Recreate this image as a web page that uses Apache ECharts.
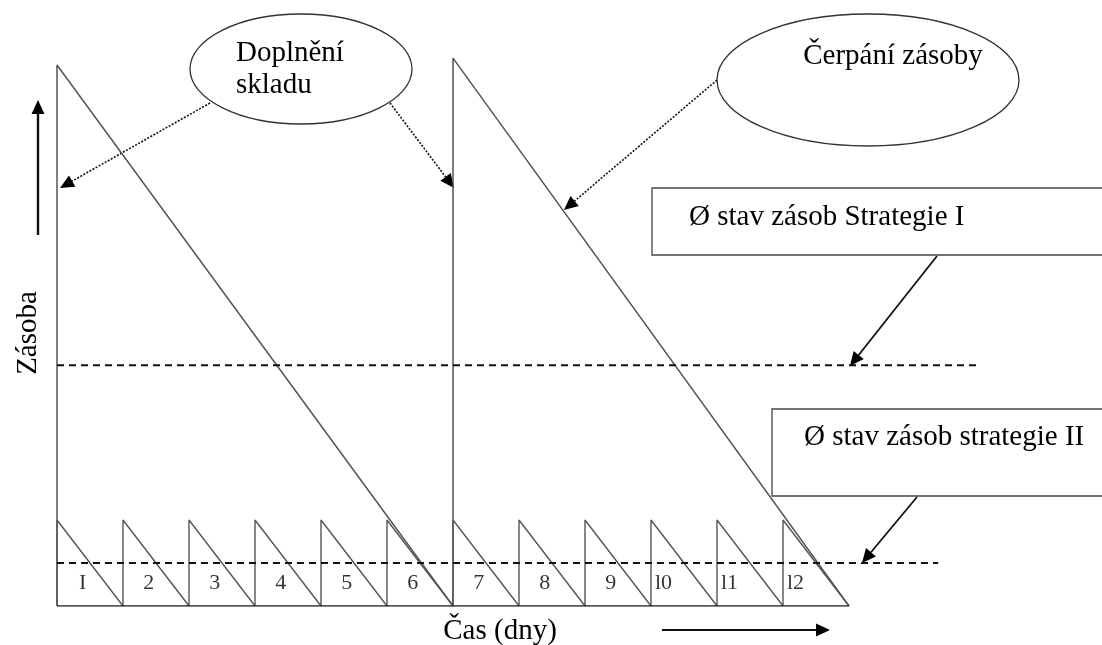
<!DOCTYPE html>
<html>
<head>
<meta charset="utf-8">
<script src="https://cdn.jsdelivr.net/npm/echarts@6/dist/echarts.min.js"></script>
<style>
  html, body { margin: 0; padding: 0; background: #fff; }
  #chart { width: 1102px; height: 645px; }
</style>
</head>
<body>
<div id="chart"></div>
<script>
// Strategie I: one big delivery every 6 days
const bigSaw = [[0, 0], [0, 6.29], [6, 0], [6, 6.37], [12, 0]];
// Strategie II: daily delivery
const smallSaw = [
  [0, 0], [0, 1], [1, 0], [1, 1], [2, 0], [2, 1], [3, 0], [3, 1], [4, 0],
  [4, 1], [5, 0], [5, 1], [6, 0], [6, 1], [7, 0], [7, 1], [8, 0],
  [8, 1], [9, 0], [9, 1], [10, 0], [10, 1], [11, 0], [11, 1], [12, 0]
];
const baseLine = [[0, 0], [12, 0]];
const avgStrategyI = [[0, 2.8], [13.94, 2.8]];
const avgStrategyII = [[0, 0.5], [13.35, 0.5]];
const dayLabels = ['I', '2', '3', '4', '5', '6', '7', '8', '9', 'l0', 'l1', 'l2'];

const serif = '"Liberation Serif", "DejaVu Serif", serif';
const chart = echarts.init(document.getElementById('chart'));

const labelPoints = dayLabels.map((t, i) => ({
  value: [i + (t.length > 1 ? 0.06 : 0.39), 0.27],
  label: {
    show: true,
    formatter: t,
    position: t.length > 1 ? 'right' : 'inside',
    distance: 0
  }
}));

const arrow = (x1, y1, x2, y2, dotted, w) => {
  const len = Math.hypot(x2 - x1, y2 - y1);
  const ux = (x2 - x1) / len, uy = (y2 - y1) / len;
  const hl = 14, hw = 6.5;
  const bx = x2 - ux * hl, by = y2 - uy * hl;
  return {
    type: 'group',
    children: [
      {
        type: 'line',
        shape: {x1: x1, y1: y1, x2: bx, y2: by},
        style: {stroke: '#111', lineWidth: w || 1.6, lineDash: dotted ? [2, 1.5] : null}
      },
      {
        type: 'polygon',
        shape: {points: [[x2, y2], [bx - uy * hw, by + ux * hw], [bx + uy * hw, by - ux * hw]]},
        style: {fill: '#000'}
      }
    ]
  };
};

const text = (t, x, y, size, align, rot) => ({
  type: 'text',
  x: x,
  y: y,
  rotation: rot || 0,
  style: {
    text: t,
    fill: '#000',
    fontSize: size,
    fontFamily: serif,
    align: align || 'left',
    verticalAlign: 'middle'
  }
});

const option = {
  animation: false,
  backgroundColor: '#fff',
  grid: {left: 57, right: 55, top: 4, bottom: 39},
  xAxis: {type: 'value', min: 0, max: 15, show: false},
  yAxis: {type: 'value', min: 0, max: 7, show: false},
  series: [
    {
      type: 'line',
      data: bigSaw,
      symbol: 'none',
      lineStyle: {color: '#555', width: 1.5}
    },
    {
      type: 'line',
      data: smallSaw,
      symbol: 'none',
      lineStyle: {color: '#555', width: 1.4}
    },
    {
      type: 'line',
      data: baseLine,
      symbol: 'none',
      lineStyle: {color: '#222', width: 1.6}
    },
    {
      type: 'line',
      data: avgStrategyI,
      symbol: 'none',
      lineStyle: {color: '#111', width: 1.9, type: [7, 5]}
    },
    {
      type: 'line',
      data: avgStrategyII,
      symbol: 'none',
      lineStyle: {color: '#111', width: 1.9, type: [7, 5]}
    },
    {
      type: 'scatter',
      data: labelPoints,
      symbolSize: 0,
      label: {color: '#000', fontSize: 22, fontFamily: serif},
      z: 5
    }
  ],
  graphic: [
    {
      type: 'ellipse',
      shape: {cx: 301, cy: 69, rx: 111, ry: 55},
      style: {fill: '#fff', stroke: '#333', lineWidth: 1.3}
    },
    text('Doplnění', 236, 53, 29),
    text('skladu', 236, 85, 29),
    {
      type: 'ellipse',
      shape: {cx: 868, cy: 80, rx: 151, ry: 66},
      style: {fill: '#fff', stroke: '#333', lineWidth: 1.3}
    },
    text('Čerpání zásoby', 893, 56, 29, 'center'),
    {
      type: 'rect',
      shape: {x: 652, y: 188, width: 470, height: 67},
      style: {fill: '#fff', stroke: '#444', lineWidth: 1.3}
    },
    text('Ø stav zásob Strategie I', 689, 217, 29),
    {
      type: 'rect',
      shape: {x: 772, y: 409, width: 350, height: 87},
      style: {fill: '#fff', stroke: '#444', lineWidth: 1.3}
    },
    text('Ø stav zásob strategie II', 804, 437, 29),
    text('Zásoba', 28, 333, 29, 'center', Math.PI / 2),
    text('Čas (dny)', 500, 631, 29, 'center'),
    arrow(210, 103, 60, 188, true),
    arrow(390, 103, 454, 188, true),
    arrow(717, 80, 564, 210, true),
    arrow(937, 256, 850, 366, false, 1.8),
    arrow(917, 497, 862, 563, false, 1.8),
    arrow(38, 235, 38, 100, false, 2.4),
    arrow(662, 630, 830, 630, false, 2)
  ]
};

chart.setOption(option);
</script>
</body>
</html>
